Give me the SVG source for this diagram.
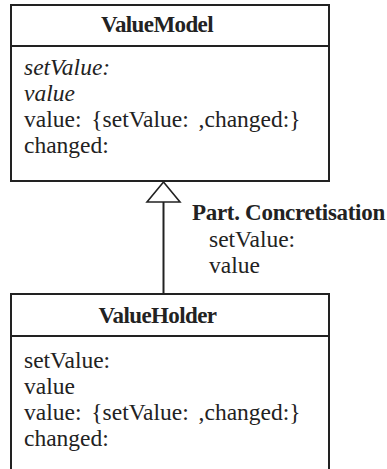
<svg xmlns="http://www.w3.org/2000/svg" width="387" height="469" viewBox="0 0 387 469" font-family="'Liberation Serif', 'Times New Roman', Times, serif">
  <style>
    .box { fill: #ffffff; stroke: #222222; stroke-width: 2; }
    .div { stroke: #222222; stroke-width: 2; }
    .edge { fill: none; stroke: #222222; stroke-width: 2; }
    .head { fill: #ffffff; stroke: #222222; stroke-width: 1.6; }
    text { font-size: 23.5px; fill: #222222; }
    .title { font-size: 23px; font-weight: bold; text-anchor: middle; letter-spacing: -0.6px; }
    .lbl { font-size: 23px; font-weight: bold; letter-spacing: -0.3px; }
    .abs { font-style: italic; }
    .wide { word-spacing: 4px; }
  </style>
  <rect width="387" height="469" fill="#ffffff"/>

  <g id="connectors">
    <line class="edge" x1="163.5" y1="202" x2="163.5" y2="294"/>
    <polygon class="head" points="163.5,182 147,202 180,202"/>
    <g id="generalisation-label">
      <text class="lbl" x="192" y="220">Part. Concretisation</text>
      <text x="209" y="247">setValue:</text>
      <text x="209" y="273">value</text>
    </g>
  </g>

  <g id="ValueModel">
    <rect class="box" x="11" y="5" width="318" height="176"/>
    <line class="div" x1="11" y1="46" x2="329" y2="46"/>
    <text class="title" x="157" y="32">ValueModel</text>
    <text class="abs" x="24" y="75">setValue:</text>
    <text class="abs" x="24" y="101">value</text>
    <text class="wide" x="24" y="127">value: {setValue: ,changed:}</text>
    <text x="24" y="153">changed:</text>
  </g>

  <g id="ValueHolder">
    <rect class="box" x="11" y="294" width="318" height="190"/>
    <line class="div" x1="11" y1="336" x2="329" y2="336"/>
    <text class="title" x="157.5" y="323">ValueHolder</text>
    <text x="24" y="368">setValue:</text>
    <text x="24" y="394">value</text>
    <text class="wide" x="24" y="420">value: {setValue: ,changed:}</text>
    <text x="24" y="446">changed:</text>
  </g>
</svg>
